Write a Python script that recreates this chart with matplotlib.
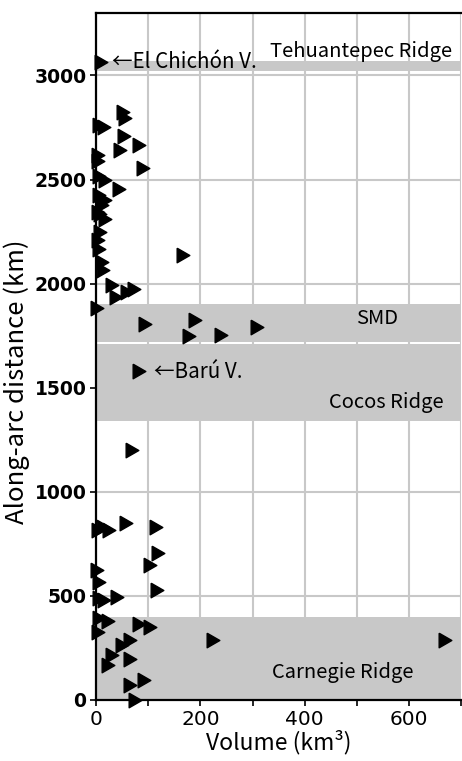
import matplotlib
matplotlib.use("Agg")
import matplotlib.pyplot as plt

plt.rcParams["font.family"] = ["Noto Sans CJK JP", "DejaVu Sans"]

# 火山の体積 (km3) と沿弧距離 (km)
volume = [10, 52, 55, 5, 16, 54, 83, 46, 3, 4, 90, 6, 17, 44, 6, 17, 12,
          3, 8, 18, 8, 4, 6, 12, 14, 167, 31, 38, 60, 73, 2,
          94, 190, 179, 240, 308, 83, 69,
          3, 14, 24, 58, 115, 119, 104, 2, 5, 117, 6, 15, 40,
          5, 22, 3, 83, 104, 225, 669, 65, 50, 31, 65, 23, 92, 65, 75]
distance = [3063, 2823, 2795, 2760, 2752, 2708, 2664, 2640, 2620, 2590, 2554, 2515, 2496, 2455, 2424, 2400, 2380,
            2345, 2335, 2310, 2250, 2210, 2165, 2105, 2065, 2136, 1993, 1935, 1958, 1973, 1882,
            1805, 1824, 1747, 1752, 1790, 1579, 1200,
            816, 830, 818, 850, 830, 705, 648, 624, 566, 528, 490, 480, 497,
            395, 378, 326, 365, 350, 288, 288, 288, 264, 216, 197, 168, 96, 72, 0]

# 海嶺などの範囲 (km)
band_names = ["Tehuantepec Ridge", "SMD", "Cocos Ridge", "Carnegie Ridge"]
band_low = [3020, 1718, 1340, 0]
band_high = [3068, 1900, 1710, 400]
band_label_x = [508, 538, 557, 473]
band_label_y = [3115, 1834, 1430, 130]

fig = plt.figure(figsize=(4.62, 7.61), dpi=100)
ax = fig.add_axes([0.208, 0.0802, 0.79, 0.9027])

ax.set_xlim(0, 700)
ax.set_ylim(0, 3300)

ax.grid(True, color="#c8c8c8", linewidth=1.5, zorder=0)
for lo, hi in zip(band_low, band_high):
    ax.axhspan(lo, hi, color="#c8c8c8", linewidth=0, zorder=1)
for name, tx, ty in zip(band_names, band_label_x, band_label_y):
    ax.text(tx, ty, name, ha="center", va="center", fontsize=14.5, zorder=4)

# 縦に少し伸ばした三角形
tri = [(-1, 1.15), (1, 0), (-1, -1.15), (-1, 1.15)]
ax.plot(volume, distance, linestyle="none", marker=tri, markersize=10.5,
        color="black", clip_on=False, zorder=5)

ax.text(31, 3063, "←El Chichón V.", ha="left", va="center", fontsize=14.8, zorder=4)
ax.text(112, 1575, "←Barú V.", ha="left", va="center", fontsize=14.8, zorder=4)

ax.set_xticks(range(0, 701, 100))
ax.set_xticklabels(["0", "", "200", "", "400", "", "600", ""],
                   family="DejaVu Sans", fontsize=14.5)
ax.set_yticks(range(0, 3001, 500))
ax.set_yticklabels([str(v) for v in range(0, 3001, 500)],
                   family="DejaVu Sans", fontweight="bold", fontsize=13.5)
ax.tick_params(length=4, width=1.2, color="black", pad=3)

ax.set_xlabel("Volume (km³)", fontsize=16.5, labelpad=1)
ax.set_ylabel("Along-arc distance (km)", fontsize=18.5)
ax.yaxis.set_label_coords(-0.18, 0.463)

for s in ["left", "bottom", "top"]:
    ax.spines[s].set_linewidth(1.6)
ax.spines["right"].set_visible(False)

fig.savefig("out.png", dpi=100)
